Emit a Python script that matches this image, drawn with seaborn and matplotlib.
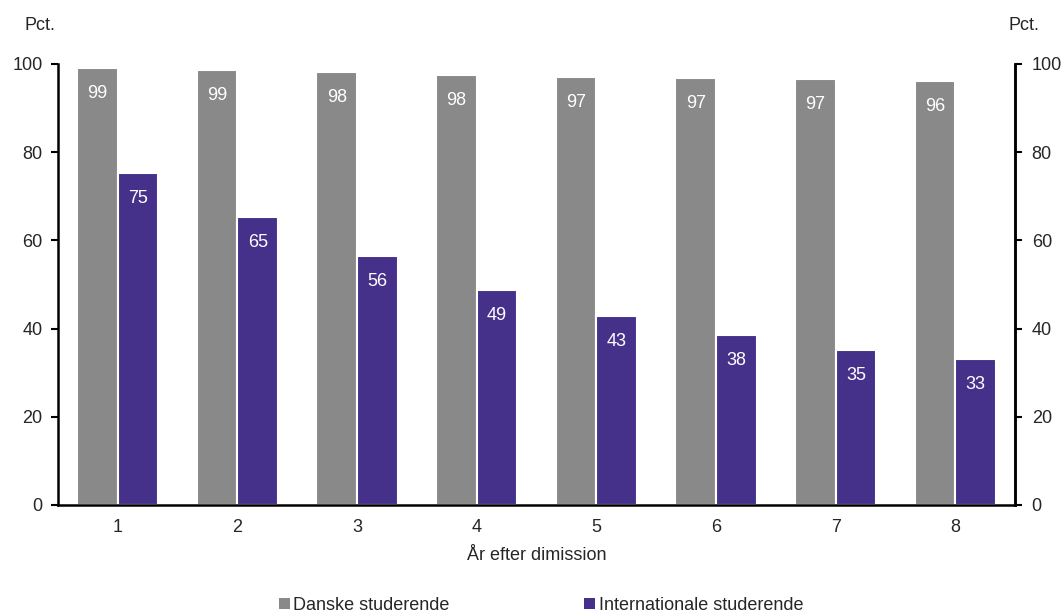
import numpy as np
import pandas as pd
import seaborn as sns
import matplotlib.pyplot as plt
from matplotlib.patches import Patch

sns.set_style('white')
plt.rcParams['font.family'] = ['Liberation Sans', 'DejaVu Sans']

years = ['1', '2', '3', '4', '5', '6', '7', '8']
danske = [99.1, 98.6, 98.2, 97.5, 97.1, 96.8, 96.6, 96.1]
internationale = [75.3, 65.2, 56.5, 48.7, 42.9, 38.5, 35.1, 33.0]
series = ['Danske studerende', 'Internationale studerende']
colors = ['#898989', '#46318a']

df = pd.DataFrame({
    'year': years * 2,
    'value': danske + internationale,
    'group': [series[0]] * len(years) + [series[1]] * len(years),
})

fs = 13
fig = plt.figure(figsize=(10.64, 6.15), dpi=100)
ax = fig.add_axes([0.0545, 0.179, 0.8995, 0.717])
sns.barplot(data=df, x='year', y='value', hue='group', palette=colors, saturation=1,
            width=0.68, edgecolor='white', linewidth=1.5, ax=ax, legend=False)

# labels inside bars
for cont in ax.containers:
    for bar in cont:
        h = bar.get_height()
        ax.text(bar.get_x() + bar.get_width() / 2, h - 5.8, f'{h:.0f}',
                ha='center', va='center', color='white', fontsize=fs)

ax.set_xlim(-0.5, 7.5)
ax.set_ylim(0, 100)
ax.set_yticks(np.arange(0, 101, 20))
ax.set_xlabel('År efter dimission', fontsize=fs, labelpad=8)
ax.set_ylabel('')
ax.set_xticks(np.arange(-0.5, 8, 1), minor=True)
ax.tick_params(axis='x', which='major', length=0, labelsize=fs, pad=10)
ax.tick_params(axis='x', which='minor', length=5, width=1.5, direction='out', color='black')
ax.tick_params(axis='y', length=5, width=1.5, direction='out', left=True, labelsize=fs,
               pad=6, color='black')
for s in ['left', 'bottom', 'right']:
    ax.spines[s].set_color('black')
    ax.spines[s].set_linewidth(1.8)
ax.spines['top'].set_visible(False)

ax2 = ax.twinx()
ax2.set_ylim(0, 100)
ax2.set_yticks(np.arange(0, 101, 20))
ax2.tick_params(axis='y', length=5, width=1.5, direction='out', right=True, labelsize=fs,
                pad=7, color='black')
for s in ['top', 'left', 'bottom']:
    ax2.spines[s].set_visible(False)
ax2.spines['right'].set_color('black')
ax2.spines['right'].set_linewidth(1.8)

fig.text(0.0226, 0.958, 'Pct.', fontsize=fs, va='center')
fig.text(0.948, 0.958, 'Pct.', fontsize=fs, va='center')

handles = [Patch(facecolor=c, edgecolor='none') for c in colors]
fig.legend(handles, series, loc='lower center', ncol=2, frameon=False,
           bbox_to_anchor=(0.5086, -0.025), fontsize=fs, handlelength=0.6,
           handleheight=0.6, handletextpad=0.2, columnspacing=7.45)

fig.savefig('out.png', dpi=100)
